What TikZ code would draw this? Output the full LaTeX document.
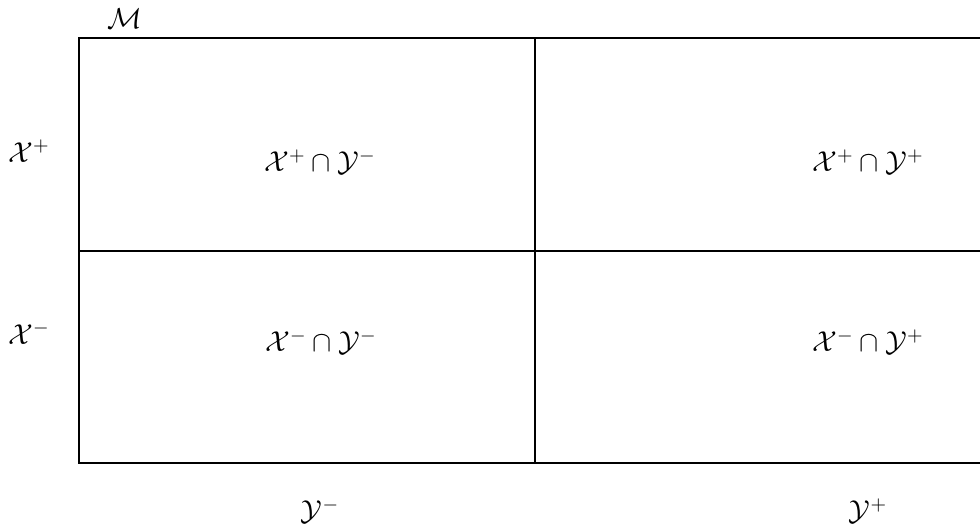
\documentclass[tikz,border=0pt]{standalone}
\usepackage{amsmath}
\begin{document}
\begin{tikzpicture}[x=0.5pt,y=-0.5pt,
  grid/.style={line width=1.35pt},
  lab/.style={inner sep=0pt,font=\Large}]
\useasboundingbox (0,0) rectangle (980,531);
\coordinate (tl) at (79,38);
\coordinate (br) at (991,463);
\coordinate (tm) at (535,38);
\coordinate (bm) at (535,463);
\coordinate (ml) at (79,251);
\coordinate (mr) at (991,251);
\draw[grid] (tl) rectangle (br);
\draw[grid] (tm) -- (bm);
\draw[grid] (ml) -- (mr);
\node[lab] (M) at (125,19) {$\mathcal{M}$};
\node[lab] (xp) at (29,151) {$\mathcal{X}^{+}$};
\node[lab] (xm) at (29,333) {$\mathcal{X}^{-}$};
\node[lab] (ym) at (320,511) {$\mathcal{Y}^{-}$};
\node[lab] (yp) at (868,511) {$\mathcal{Y}^{+}$};
\node[lab] (c1) at (320,162) {$\mathcal{X}^{+}\cap\mathcal{Y}^{-}$};
\node[lab] (c2) at (868,162) {$\mathcal{X}^{+}\cap\mathcal{Y}^{+}$};
\node[lab] (c3) at (321,342) {$\mathcal{X}^{-}\cap\mathcal{Y}^{-}$};
\node[lab] (c4) at (868,342) {$\mathcal{X}^{-}\cap\mathcal{Y}^{+}$};
\end{tikzpicture}
\end{document}
